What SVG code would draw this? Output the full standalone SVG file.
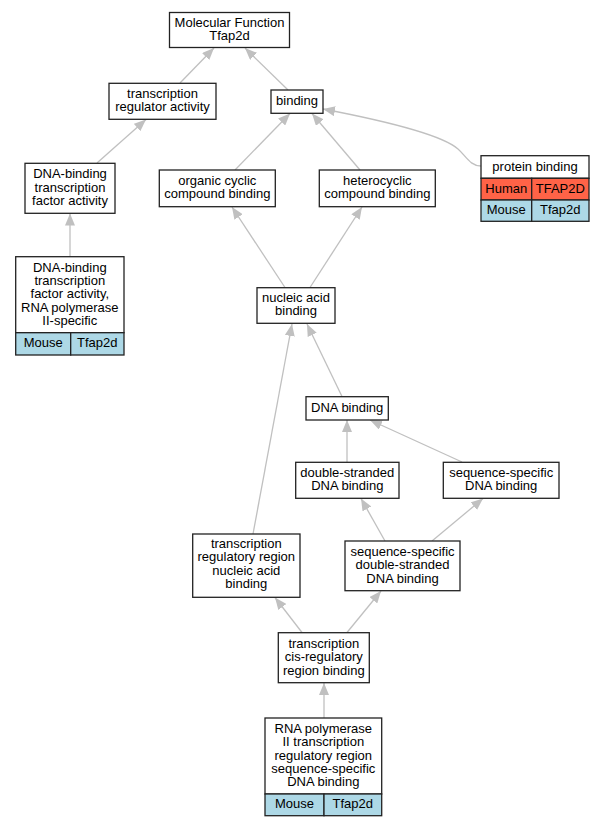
<svg xmlns="http://www.w3.org/2000/svg" width="604" height="827" viewBox="0 0 604 827">
<style>
  .box { fill: #ffffff; stroke: #222222; stroke-width: 1.3; }
  .human { fill: #ff6347; stroke: #222222; stroke-width: 1.3; }
  .mouse { fill: #add8e6; stroke: #222222; stroke-width: 1.3; }
  text { font-family: "Liberation Sans", Arial, sans-serif; font-size: 13px; fill: #000000; text-anchor: middle; }
  .edge { fill: none; stroke: #c0c0c0; stroke-width: 1.3; marker-end: url(#arr); }
</style>
<defs>
  <marker id="arr" markerUnits="userSpaceOnUse" viewBox="0 0 12 10" markerWidth="12" markerHeight="10" refX="12" refY="5" orient="auto">
    <path d="M0,0 L12,5 L0,10 z" fill="#c0c0c0"/>
  </marker>
</defs>
<rect width="604" height="827" fill="#ffffff"/>

<g id="edges">
  <line class="edge" x1="180" y1="83" x2="214" y2="48"/>
  <line class="edge" x1="288" y1="90" x2="245" y2="48"/>
  <line class="edge" x1="97" y1="163" x2="146" y2="119.5"/>
  <line class="edge" x1="235" y1="170" x2="290" y2="113.5"/>
  <line class="edge" x1="360" y1="170" x2="312" y2="113.5"/>
  <path class="edge" d="M481,166 C470,166 466,156 458,149 C440,133 370,118 323,109"/>
  <line class="edge" x1="70" y1="257" x2="70" y2="213.5"/>
  <line class="edge" x1="285" y1="287.5" x2="232" y2="207"/>
  <line class="edge" x1="310" y1="287.5" x2="362" y2="207"/>
  <line class="edge" x1="342" y1="396.5" x2="307" y2="324"/>
  <line class="edge" x1="347" y1="462" x2="347" y2="420"/>
  <line class="edge" x1="462" y1="462" x2="370" y2="420"/>
  <line class="edge" x1="253" y1="534" x2="292" y2="324"/>
  <line class="edge" x1="385" y1="541" x2="361" y2="498.5"/>
  <line class="edge" x1="432" y1="541" x2="483" y2="498.5"/>
  <line class="edge" x1="302" y1="632.5" x2="275" y2="597.5"/>
  <line class="edge" x1="347" y1="632.5" x2="381" y2="591"/>
  <line class="edge" x1="324" y1="718" x2="324" y2="683"/>
</g>

<g id="n_mf">
  <rect class="box" x="169.5" y="12.5" width="120" height="35"/>
  <text x="229.5" y="26.8">Molecular Function</text>
  <text x="229.5" y="40.2">Tfap2d</text>
</g>

<g id="n_tra">
  <rect class="box" x="109" y="83.3" width="107" height="36"/>
  <text x="162.5" y="97.6">transcription</text>
  <text x="162.5" y="111">regulator activity</text>
</g>

<g id="n_binding">
  <rect class="box" x="271" y="90" width="52" height="23.3"/>
  <text x="297" y="105.2">binding</text>
</g>

<g id="n_dbtfa">
  <rect class="box" x="25" y="163.3" width="90" height="50"/>
  <text x="70" y="178.4">DNA-binding</text>
  <text x="70" y="191.8">transcription</text>
  <text x="70" y="205.2">factor activity</text>
</g>

<g id="n_occb">
  <rect class="box" x="159.3" y="170" width="116" height="36.7"/>
  <text x="217.3" y="184.6">organic cyclic</text>
  <text x="217.3" y="198">compound binding</text>
</g>

<g id="n_hcb">
  <rect class="box" x="319.3" y="170" width="116" height="36.7"/>
  <text x="377.3" y="184.6">heterocyclic</text>
  <text x="377.3" y="198">compound binding</text>
</g>

<g id="n_pb">
  <rect class="box" x="481" y="155.7" width="108" height="22.6"/>
  <text x="535" y="170.6">protein binding</text>
  <rect class="human" x="481" y="178.3" width="50.7" height="21.7"/>
  <rect class="human" x="531.7" y="178.3" width="57.3" height="21.7"/>
  <text x="506.3" y="192.7">Human</text>
  <text x="560.3" y="192.7">TFAP2D</text>
  <rect class="mouse" x="481" y="200" width="50.7" height="21.3"/>
  <rect class="mouse" x="531.7" y="200" width="57.3" height="21.3"/>
  <text x="506.3" y="214.2">Mouse</text>
  <text x="560.3" y="214.2">Tfap2d</text>
</g>

<g id="n_dbtfa2">
  <rect class="box" x="15.7" y="256.7" width="108.3" height="76"/>
  <text x="69.8" y="271.5">DNA-binding</text>
  <text x="69.8" y="284.9">transcription</text>
  <text x="69.8" y="298.3">factor activity,</text>
  <text x="69.8" y="311.7">RNA polymerase</text>
  <text x="69.8" y="325.1">II-specific</text>
  <rect class="mouse" x="15.7" y="332.7" width="55" height="22.3"/>
  <rect class="mouse" x="70.7" y="332.7" width="53.3" height="22.3"/>
  <text x="43.2" y="347.4">Mouse</text>
  <text x="97.3" y="347.4">Tfap2d</text>
</g>

<g id="n_nab">
  <rect class="box" x="257" y="287.7" width="78" height="35.6"/>
  <text x="296" y="302">nucleic acid</text>
  <text x="296" y="315.4">binding</text>
</g>

<g id="n_dnab">
  <rect class="box" x="306" y="396.7" width="82.3" height="23.3"/>
  <text x="347.2" y="412">DNA binding</text>
</g>

<g id="n_dsdb">
  <rect class="box" x="295.7" y="462.3" width="103.3" height="36"/>
  <text x="347.3" y="476.8">double-stranded</text>
  <text x="347.3" y="490.2">DNA binding</text>
</g>

<g id="n_ssdb">
  <rect class="box" x="443.3" y="462.3" width="115.7" height="36"/>
  <text x="501.2" y="476.8">sequence-specific</text>
  <text x="501.2" y="490.2">DNA binding</text>
</g>

<g id="n_trrnab">
  <rect class="box" x="192.7" y="534" width="107.3" height="63.3"/>
  <text x="246.3" y="548">transcription</text>
  <text x="246.3" y="561.4">regulatory region</text>
  <text x="246.3" y="574.8">nucleic acid</text>
  <text x="246.3" y="588.2">binding</text>
</g>

<g id="n_ssdsdb">
  <rect class="box" x="345" y="541" width="115" height="49.7"/>
  <text x="402.5" y="556">sequence-specific</text>
  <text x="402.5" y="569.4">double-stranded</text>
  <text x="402.5" y="582.8">DNA binding</text>
</g>

<g id="n_tcrrb">
  <rect class="box" x="278.3" y="632.7" width="91" height="50"/>
  <text x="323.8" y="647.8">transcription</text>
  <text x="323.8" y="661.2">cis-regulatory</text>
  <text x="323.8" y="674.6">region binding</text>
</g>

<g id="n_rnap">
  <rect class="box" x="265" y="718" width="116.7" height="76"/>
  <text x="323.3" y="732.7">RNA polymerase</text>
  <text x="323.3" y="746.1">II transcription</text>
  <text x="323.3" y="759.5">regulatory region</text>
  <text x="323.3" y="772.9">sequence-specific</text>
  <text x="323.3" y="786.3">DNA binding</text>
  <rect class="mouse" x="265" y="794" width="59" height="21.7"/>
  <rect class="mouse" x="324" y="794" width="57.7" height="21.7"/>
  <text x="294.5" y="808.4">Mouse</text>
  <text x="352.8" y="808.4">Tfap2d</text>
</g>
</svg>
